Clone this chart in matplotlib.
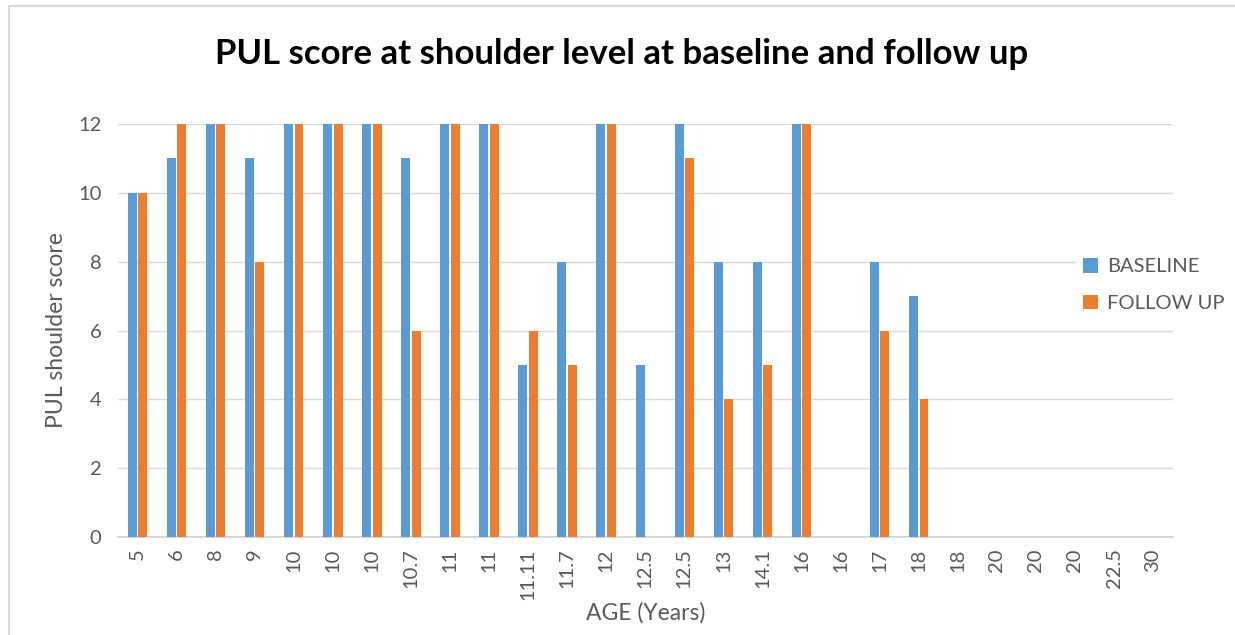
import numpy as np
import matplotlib.pyplot as plt
from matplotlib.patches import Rectangle

ages = ["5", "6", "8", "9", "10", "10", "10", "10.7", "11", "11", "11.11", "11.7",
        "12", "12.5", "12.5", "13", "14.1", "16", "16", "17", "18", "18",
        "20", "20", "20", "22.5", "30"]
baseline = [10, 11, 12, 11, 12, 12, 12, 11, 12, 12, 5, 8,
            12, 5, 12, 8, 8, 12, 0, 8, 7, 0,
            0, 0, 0, 0, 0]
follow_up = [10, 12, 12, 8, 12, 12, 12, 6, 12, 12, 6, 5,
             12, 0, 11, 4, 5, 12, 0, 6, 4, 0,
             0, 0, 0, 0, 0]

blue = "#5B9BD5"
orange = "#ED7D31"
txt = "#595959"
plt.rcParams["font.family"] = ["Lato", "DejaVu Sans"]

fig = plt.figure(figsize=(12.35, 6.35), dpi=100)
ax = fig.add_axes([0.0955, 0.154, 0.854, 0.651])

x = np.arange(len(ages))
w = 0.23
ax.bar(x - 0.135, baseline, w, color=blue, label="BASELINE", zorder=3)
ax.bar(x + 0.135, follow_up, w, color=orange, label="FOLLOW UP", zorder=3)

ax.set_xlim(-0.5, len(ages) - 0.5)
ax.set_ylim(0, 12)
ax.set_yticks(range(0, 13, 2))
ax.set_xticks(x)
ax.set_xticklabels(ages, rotation=90)
ax.tick_params(axis="both", length=0, labelsize=14.5, labelcolor=txt, pad=8)
ax.tick_params(axis="y", pad=12)
ax.grid(axis="y", color="#D9D9D9", linewidth=1, zorder=0)
for s in ["top", "right", "left"]:
    ax.spines[s].set_visible(False)
ax.spines["bottom"].set_color("#D0D0D0")
ax.spines["bottom"].set_linewidth(1.2)

ax.set_xlabel("AGE (Years)", fontsize=16.5, color=txt, labelpad=2)
ax.set_ylabel("PUL shoulder score", fontsize=16.5, color=txt, labelpad=8)
fig.text(0.503, 0.915, "PUL score at shoulder level at baseline and follow up",
         ha="center", va="center", fontsize=25, fontweight="bold", color="black")

leg = ax.legend(loc="center left", bbox_to_anchor=(0.9, 0.61), frameon=True,
                fontsize=14.5, handlelength=0.75, handleheight=0.75,
                labelspacing=0.95, handletextpad=0.45, borderpad=0.3)
leg.get_frame().set_facecolor("white")
leg.get_frame().set_edgecolor("white")
for t in leg.get_texts():
    t.set_color(txt)

# outer chart border
fig.patches.append(Rectangle((0.007, -0.05), 1.2, 1.04, transform=fig.transFigure,
                             fill=False, edgecolor="#D9D9D9", linewidth=1.5))

fig.savefig("out.png", dpi=100, facecolor="white")
